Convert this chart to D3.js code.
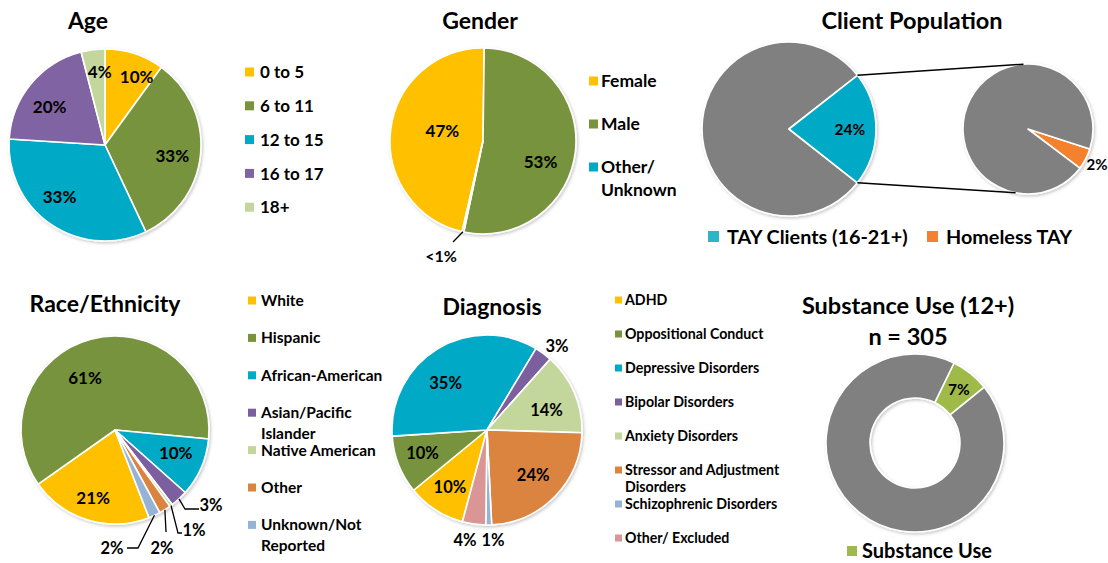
<!DOCTYPE html>
<html><head><meta charset="utf-8">
<script src="https://cdn.jsdelivr.net/npm/d3@7"></script>
<style>
body{margin:0;background:#fff}
svg{display:block}
text{font-family:Lato,'Open Sans',sans-serif;font-weight:700;fill:#000}
</style>
</head><body>
<svg id="c" width="1108" height="563"></svg>
<script>
// ---------------- DATA ----------------
const ageCategories = ["0 to 5", "6 to 11", "12 to 15", "16 to 17", "18+"];
const ageValues = [10, 33, 33, 20, 4];
const ageLabels = ["10%", "33%", "33%", "20%", "4%"];

const genderCategories = ["Female", "Male", "Other/\nUnknown"];
const genderValues = [46.6, 53.1, 0.3];
const genderLabels = ["47%", "53%", "<1%"];

const clientCategories = ["All Other Clients", "TAY Clients (16-21+)"];
const clientValues = [78.8, 21.2];
const clientLabels = ["", "24%"];
const tayCategories = ["Homeless TAY", "Other TAY"];
const tayValues = [5.3, 94.7];
const tayLabels = ["2%", ""];

const raceCategories = ["White", "Hispanic", "African-American", "Asian/Pacific\nIslander", "Native American", "Other", "Unknown/Not\nReported"];
const raceValues = [21, 61, 10, 3, 0.5, 2, 2];
const raceLabels = ["21%", "61%", "10%", "3%", "1%", "2%", "2%"];

const diagCategories = ["ADHD", "Oppositional Conduct", "Depressive Disorders", "Bipolar Disorders", "Anxiety Disorders", "Stressor and Adjustment\nDisorders", "Schizophrenic Disorders", "Other/ Excluded"];
const diagValues = [10, 10, 35, 3, 14, 24, 1, 4];
const diagLabels = ["10%", "10%", "35%", "3%", "14%", "24%", "1%", "4%"];

const substanceCategories = ["Substance Use", "No Substance Use"];
const substanceValues = [7, 93];
const substanceLabels = ["7%", ""];

// ---------------- STYLE ----------------
const YEL = "#FFC000", GRN = "#77933C", CYA = "#00A9C6", PUR = "#7B5E9F",
      LGR = "#C3D69B", ORA = "#DB8440", LBL = "#95B3D7", PNK = "#D99694", GRY = "#808080";

const svg = d3.select("#c");
const defs = svg.append("defs");
const f = defs.append("filter").attr("id", "shadow").attr("x", "-10%").attr("y", "-10%").attr("width", "130%").attr("height", "130%");
f.append("feDropShadow").attr("dx", 1.2).attr("dy", 1.5).attr("stdDeviation", 1.4).attr("flood-color", "#000").attr("flood-opacity", 0.22);

const rad = d => d * Math.PI / 180;

function txt(x, yc, s, fs, anchor) {
  return svg.append("text").attr("x", x).attr("y", yc + fs * 0.36)
    .attr("text-anchor", anchor || "start").style("font-size", fs + "px").text(s);
}

function pieChart(cfg) {
  const g = svg.append("g").attr("transform", `translate(${cfg.cx},${cfg.cy})`);
  const pie = d3.pie().sort(null).value(d => d)
    .startAngle(rad(cfg.start)).endAngle(rad(cfg.start) + 2 * Math.PI);
  const arcs = pie(cfg.values);
  const arc = d3.arc().innerRadius(cfg.inner || 0).outerRadius(cfg.r);
  g.append("g").attr("filter", "url(#shadow)")
    .selectAll("path").data(arcs).join("path")
    .attr("d", arc).attr("fill", (d, i) => cfg.colors[i])
    .attr("stroke", "#fff").attr("stroke-width", 1.6).attr("stroke-linejoin", "round");
  arcs.forEach((d, i) => {
    const spec = cfg.labelSpec[i];
    if (!spec || !cfg.labels[i]) return;
    const mid = (d.startAngle + d.endAngle) / 2;
    let x, y;
    if (spec.dx !== undefined) { x = spec.dx; y = spec.dy; }
    else {
      const a = mid + rad(spec.shift || 0), rr = cfg.r * spec.k;
      x = rr * Math.sin(a); y = -rr * Math.cos(a);
    }
    if (spec.leader) {
      const pts = [[cfg.r * Math.sin(mid), -cfg.r * Math.cos(mid)], ...spec.leader];
      g.append("path").attr("d", d3.line()(pts)).attr("fill", "none")
        .attr("stroke", "#000").attr("stroke-width", 1.3);
    }
    const fs = spec.fs || cfg.fs;
    g.append("text").attr("x", x).attr("y", y + fs * 0.36).attr("text-anchor", "middle")
      .style("font-size", fs + "px").text(cfg.labels[i]);
  });
  return { g, arcs };
}

function legend(cfg) {
  cfg.cats.forEach((c, i) => {
    const y = cfg.y0 + i * cfg.step;
    svg.append("rect").attr("x", cfg.x).attr("y", y - cfg.sq / 2)
      .attr("width", cfg.sq).attr("height", cfg.sq).attr("fill", cfg.colors[i]);
    const t = svg.append("text").attr("x", cfg.tx).attr("y", y + cfg.fs * 0.36)
      .style("font-size", cfg.fs + "px");
    c.split("\n").forEach((line, j) =>
      t.append("tspan").attr("x", cfg.tx).attr("dy", j ? cfg.lineH : 0).text(line));
  });
}

// ---------------- AGE ----------------
txt(88, 21, "Age", 23, "middle");
pieChart({
  cx: 105, cy: 145, r: 96, start: 0, values: ageValues, labels: ageLabels, fs: 17,
  colors: [YEL, GRN, CYA, "#8064A2", LGR],
  labelSpec: [{k: .78, shift: 7}, {k: .71, shift: 4}, {k: .72, shift: 7}, {k: .70, shift: -5}, {k: .76, shift: 3}]
});
legend({cats: ageCategories, colors: [YEL, GRN, CYA, "#8064A2", LGR], x: 245, tx: 260, y0: 72, step: 33.8, sq: 9, fs: 17});

// ---------------- GENDER ----------------
txt(480, 21, "Gender", 23, "middle");
pieChart({
  cx: 483, cy: 141, r: 93, start: 193, values: genderValues, labels: genderLabels, fs: 17,
  colors: [YEL, GRN, CYA],
  labelSpec: [{k: .45, shift: 7}, {k: .66, shift: 14}, {dx: -42, dy: 115, fs: 16, leader: [[-30, 101]]}]
});
legend({cats: genderCategories, colors: [YEL, GRN, CYA], x: 589, tx: 601, y0: 81, step: 43, sq: 9, fs: 17.5, lineH: 23});

// ---------------- CLIENT POPULATION ----------------
txt(912, 21, "Client Population", 23.5, "middle");
const main = pieChart({
  cx: 789, cy: 129, r: 87, start: 128.2, values: clientValues, labels: clientLabels, fs: 15.5,
  colors: [GRY, CYA], labelSpec: [null, {k: .70}]
});
const sec = {cx: 1028, cy: 129, r: 65};
pieChart({
  cx: sec.cx, cy: sec.cy, r: sec.r, start: 108, values: tayValues, labels: tayLabels, fs: 15,
  colors: ["#F4812F", GRY], labelSpec: [{dx: 69, dy: 36}, null]
});
{
  const w = main.arcs[1];
  const pm = a => [789 + 87 * Math.sin(a), 129 - 87 * Math.cos(a)];
  const ps = a => [sec.cx + sec.r * Math.sin(rad(a)), sec.cy - sec.r * Math.cos(rad(a))];
  [[pm(w.startAngle), ps(-4)], [pm(w.endAngle), ps(191)]].forEach(seg =>
    svg.append("path").attr("d", d3.line()(seg)).attr("stroke", "#000").attr("stroke-width", 1.5).attr("fill", "none"));
}
[[708, "TAY Clients (16-21+)", "#2DB7C6"], [927, "Homeless TAY", "#F4812F"]].forEach(([x, s, c]) => {
  svg.append("rect").attr("x", x).attr("y", 231).attr("width", 11).attr("height", 11).attr("fill", c);
  txt(x + 19, 236.5, s, 19.8);
});

// ---------------- RACE / ETHNICITY ----------------
txt(105, 304, "Race/Ethnicity", 23, "middle");
const raceColors = [YEL, GRN, CYA, PUR, LGR, ORA, LBL];
pieChart({
  cx: 115, cy: 430, r: 94, start: 158.8, values: raceValues, labels: raceLabels, fs: 17,
  colors: raceColors,
  labelSpec: [
    {k: .76, shift: 1}, {k: .64, shift: -15}, {k: .69, shift: -3},
    {dx: 96, dy: 75, fs: 16.5, leader: [[70, 79], [84, 79]]},
    {dx: 79, dy: 100, fs: 16.5, leader: [[63, 103], [67, 103]]},
    {dx: 47, dy: 118, fs: 16.5, leader: [[51, 102]]},
    {dx: -3, dy: 118, fs: 16.5, leader: [[23, 118], [12, 118]]}
  ]
});
legend({cats: raceCategories, colors: raceColors, x: 248, tx: 261, y0: 300.5, step: 37.4, sq: 8, fs: 15.5, lineH: 21});

// ---------------- DIAGNOSIS ----------------
txt(492, 307, "Diagnosis", 23, "middle");
const diagColors = [YEL, GRN, CYA, PUR, LGR, ORA, LBL, PNK];
pieChart({
  cx: 487, cy: 430, r: 95, start: 195, values: diagValues, labels: diagLabels, fs: 16.5,
  colors: diagColors,
  labelSpec: [
    {k: .72}, {k: .72, shift: 2}, {k: .66, shift: -10},
    {dx: 70, dy: -84}, {k: .66, shift: 5}, {k: .68},
    {dx: 6, dy: 110}, {dx: -22, dy: 110}
  ]
});
legend({cats: diagCategories, colors: diagColors, x: 615, tx: 625, y0: 300, step: 34, sq: 7, fs: 14.2, lineH: 17});

// ---------------- SUBSTANCE USE ----------------
txt(908, 306, "Substance Use (12+)", 23.5, "middle");
txt(908, 337, "n = 305", 23.5, "middle");
pieChart({
  cx: 915, cy: 443, r: 89, inner: 45, start: 26, values: substanceValues, labels: substanceLabels, fs: 15.5,
  colors: ["#9FBA48", GRY], labelSpec: [{k: .775, shift: 1}, null]
});
svg.append("rect").attr("x", 847).attr("y", 546).attr("width", 10).attr("height", 10).attr("fill", "#9FBA48");
txt(862, 551, "Substance Use", 20);
</script>
</body></html>
